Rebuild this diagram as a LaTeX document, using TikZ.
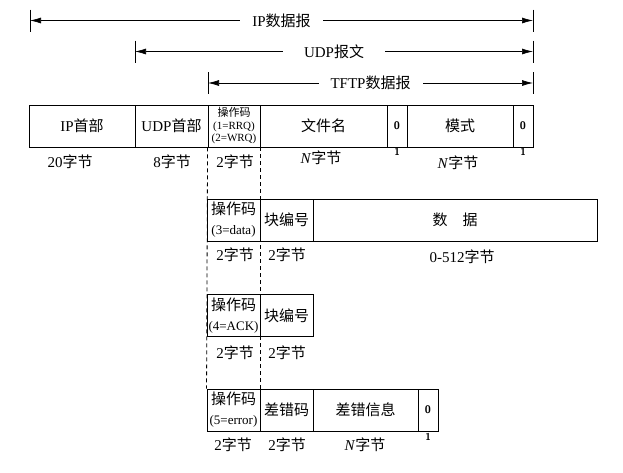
\documentclass[tikz,border=0pt]{standalone}
\usepackage{fontspec}
\setmainfont{Liberation Serif}
\newfontfamily\cjk{Noto Sans CJK SC}
\usetikzlibrary{arrows.meta}
\newcommand{\zh}[1]{{\cjk #1}}
\newcommand{\fs}[2]{\fontsize{#1}{#2}\selectfont}

\begin{document}
\begin{tikzpicture}[x=1pt,y=-1pt,>={Latex[length=11pt,width=6pt]},
  font=\fs{15}{18},
  cell/.style={draw,line width=0.9pt,inner sep=0pt,align=center,minimum height=42pt},
  opcell/.style={cell,font=\fs{15}{20}},
  zcell/.style={cell,font=\fs{11}{12}\sffamily\bfseries},
  dim/.style={<->,line width=0.7pt},
  tick/.style={line width=0.7pt},
  lab/.style={inner sep=0pt},
  tag/.style={inner sep=0pt,font=\fs{10}{11}\sffamily\bfseries}]
\useasboundingbox (0,0) rectangle (623,472);
% length arrows
\foreach \nm/\xa/\y/\txt/\sep in {ip/30/20.5/IP\zh{数据报}/12,udp/135/51.5/UDP\zh{报文}/21,tftp/208/83/TFTP\zh{数据报}/12}{
\coordinate (\nm-l) at (\xa,\y); \coordinate (\nm-r) at (533,\y);
\draw[dim] (\nm-l) -- (\nm-r) node[midway,fill=white,inner xsep=\sep pt,inner ysep=1pt] (\nm-t) {\txt};
\draw[tick] ([yshift=11pt]\nm-l) -- ([yshift=-11pt]\nm-l);
\draw[tick] ([yshift=11pt]\nm-r) -- ([yshift=-11pt]\nm-r);}
% RRQ / WRQ
\node[cell,minimum width=106pt] (iph) at (82,126) {IP\zh{首部}};
\node[cell,minimum width=73pt] (udph) at (171.5,126) {UDP\zh{首部}};
\node[cell,minimum width=52pt,font=\fs{11}{12.5}] (op1) at (234,126) {\zh{操作码}\\(1=RRQ)\\(2=WRQ)};
\node[cell,minimum width=127pt] (fname) at (323.5,126) {\zh{文件名}};
\node[zcell,minimum width=20pt] (z1) at (397,126) {0};
\node[cell,minimum width=106pt] (mode) at (460,126) {\zh{模式}};
\node[zcell,minimum width=20pt] (z2) at (523,126) {0};
\node[lab] (b1) at (70,162) {20\zh{字节}};
\node[lab] (b2) at (172,162) {8\zh{字节}};
\node[lab] (b3) at (235,162) {2\zh{字节}};
\node[lab] (b4) at (321,158) {\textit{N}\zh{字节}};
\node[tag] (t1) at (397,152) {1};
\node[lab] (b5) at (458,163) {\textit{N}\zh{字节}};
\node[tag] (t2) at (523,152) {1};
% DATA
\node[opcell,minimum width=53pt] (op2) at (233.5,220) {\zh{操作码}\\{\fs{13}{20}(3=data)}};
\node[cell,minimum width=53pt] (blk2) at (286.5,220) {\zh{块编号}};
\node[cell,minimum width=284pt] (data) at (455,220) {\zh{数\hspace{1em}据}};
\node[lab] (c1) at (235,255) {2\zh{字节}};
\node[lab] (c2) at (287,255) {2\zh{字节}};
\node[lab] (c3) at (462,257) {0-512\zh{字节}};
% ACK
\node[opcell,minimum width=53pt] (op3) at (233.5,315.5) {\zh{操作码}\\{\fs{13}{20}(4=ACK)}};
\node[cell,minimum width=53pt] (blk3) at (286.5,315.5) {\zh{块编号}};
\node[lab] (d1) at (235,353) {2\zh{字节}};
\node[lab] (d2) at (287,353) {2\zh{字节}};
% ERROR
\node[opcell,minimum width=53pt] (op4) at (233.5,410) {\zh{操作码}\\{\fs{13}{20}(5=error)}};
\node[cell,minimum width=53pt] (ecode) at (286.5,410) {\zh{差错码}};
\node[cell,minimum width=105pt] (emsg) at (365.5,410) {\zh{差错信息}};
\node[zcell,minimum width=20pt] (z3) at (428,410) {0};
\node[lab] (e1) at (233,445) {2\zh{字节}};
\node[lab] (e2) at (287,445) {2\zh{字节}};
\node[lab] (e3) at (365,445) {\textit{N}\zh{字节}};
\node[tag] (t3) at (428,437) {1};
% opcode column
\draw[line width=0.8pt,dash pattern=on 4pt off 3pt] (op1.south west) -- (op4.north west);
\draw[line width=0.8pt,dash pattern=on 4pt off 3pt] (op1.south east) -- (op4.north east);
\end{tikzpicture}
\end{document}
